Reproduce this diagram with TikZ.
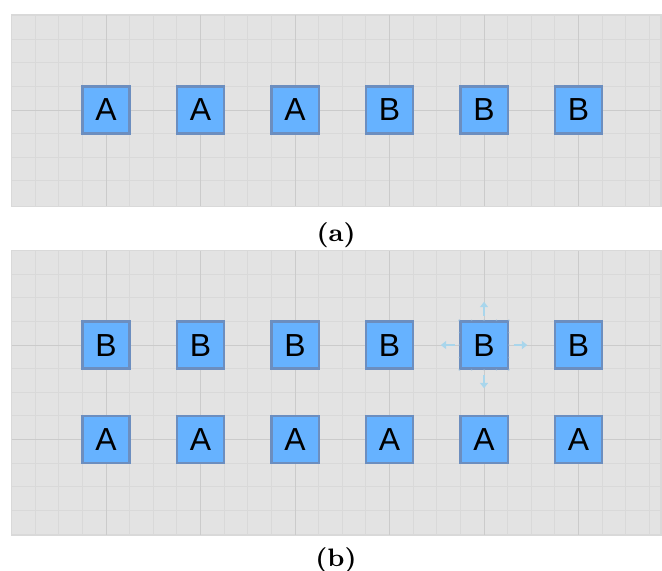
\documentclass[tikz,border=0pt]{standalone}
\usepackage{fontspec}
\newfontfamily\boxfont{Liberation Sans}
\usepackage{tikz}
\usetikzlibrary{arrows.meta,calc}

\definecolor{panelbg}{HTML}{E3E3E3}
\definecolor{gridminor}{HTML}{D9D9D9}
\definecolor{gridmajor}{HTML}{CBCBCB}
\definecolor{boxfill}{HTML}{66B2FF}
\definecolor{boxline}{HTML}{6C8EBF}
\definecolor{hint}{HTML}{A9D6EC}

\begin{document}
\begin{tikzpicture}[
  panel/.style={fill=panelbg, draw=gridminor, line width=0.4pt},
  minor/.style={draw=gridminor, line width=0.3pt},
  major/.style={draw=gridmajor, line width=0.3pt},
  tile/.style={rectangle, draw=boxline, fill=boxfill, line width=0.7pt,
    minimum size=0.5cm, inner sep=0pt, font=\boxfont\fontsize{9.6}{11}\selectfont},
  hintarrow/.style={draw=hint, line width=0.5pt, -{Triangle[length=1.6pt,width=2.4pt]}},
  caption/.style={font=\bfseries\fontsize{7.6}{9}\selectfont}
]
\useasboundingbox (0,0) rectangle (7.005,-6.042);

% (a): one row
\begin{scope}[shift={(1.122,-1.164)}]
  \fill[panel] (-0.999,-1.02) rectangle (5.873,1.005);
  \foreach \x in {-0.75,-0.5,...,5.8} \draw[minor] (\x,-1.02) -- (\x,1.005);
  \foreach \y in {-0.75,-0.5,...,0.9} \draw[minor] (-0.999,\y) -- (5.873,\y);
  \foreach \x in {0,...,5} \draw[major] (\x,-1.02) -- (\x,1.005);
  \draw[major] (-0.999,0) -- (5.873,0);
  \foreach \i/\t in {1/A,2/A,3/A,4/B,5/B,6/B}
    \node[tile] (a\i) at ({\i-1},0) {\t};
\end{scope}
\node[caption] (capa) at (3.556,-2.487) {(a)};

% (b): two rows
\begin{scope}[shift={(1.122,-3.651)}]
  \fill[panel] (-0.999,-2.01) rectangle (5.873,1.0);
  \foreach \x in {-0.75,-0.5,...,5.8} \draw[minor] (\x,-2.01) -- (\x,1.0);
  \foreach \y in {-1.75,-1.5,...,0.9} \draw[minor] (-0.999,\y) -- (5.873,\y);
  \foreach \x in {0,...,5} \draw[major] (\x,-2.01) -- (\x,1.0);
  \foreach \y in {0,-1} \draw[major] (-0.999,\y) -- (5.873,\y);
  \foreach \i in {1,...,6} {
    \node[tile] (top\i) at ({\i-1},0) {B};
    \node[tile] (bot\i) at ({\i-1},-1) {A};
  }
  % selected tile: connection dots and drag hints
  \foreach \f in {0,0.25,0.5,0.75,1} {
    \fill[hint!60!boxline, opacity=0.6] ($(top5.north west)!\f!(top5.north east)$) circle (0.25pt);
    \fill[hint!60!boxline, opacity=0.6] ($(top5.south west)!\f!(top5.south east)$) circle (0.25pt);
    \fill[hint!60!boxline, opacity=0.6] ($(top5.north west)!\f!(top5.south west)$) circle (0.25pt);
    \fill[hint!60!boxline, opacity=0.6] ($(top5.north east)!\f!(top5.south east)$) circle (0.25pt);
  }
  \draw[hintarrow] ([yshift=0.05cm]top5.north) -- ([yshift=0.195cm]top5.north);
  \draw[hintarrow] ([yshift=-0.05cm]top5.south) -- ([yshift=-0.195cm]top5.south);
  \draw[hintarrow] ([xshift=-0.05cm]top5.west) -- ([xshift=-0.195cm]top5.west);
  \draw[hintarrow] ([xshift=0.05cm]top5.east) -- ([xshift=0.195cm]top5.east);
\end{scope}
\node[caption] (capb) at (3.556,-5.926) {(b)};
\end{tikzpicture}
\end{document}
